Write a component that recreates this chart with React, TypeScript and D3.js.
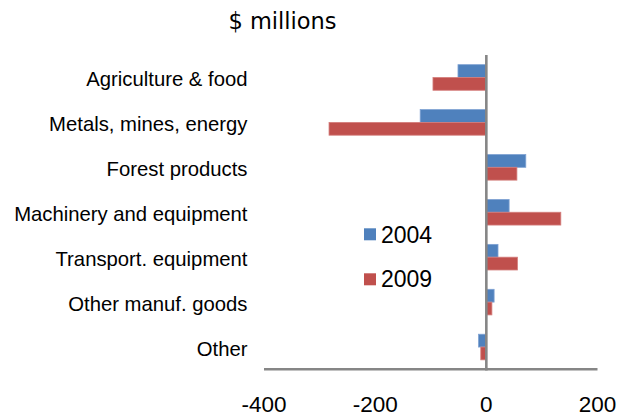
import React from "react";
import * as d3 from "d3";

const categories = [
  "Agriculture & food",
  "Metals, mines, energy",
  "Forest products",
  "Machinery and equipment",
  "Transport. equipment",
  "Other manuf. goods",
  "Other",
];
const values2004 = [-51, -119, 71, 41, 21, 14, -14];
const values2009 = [-96, -283, 55, 134, 56, 10, -10];
const seriesNames = ["2004", "2009"];
const seriesColors = ["#4F81BD", "#C0504D"];
const seriesStrokes = ["#7FA2D3", "#D47E7C"];
const xTicks = [-400, -200, 0, 200];

export default function App() {
  const W = 633;
  const H = 417;
  const x = d3.scaleLinear().domain([-400, 200]).range([264, 597.5]);
  const y = d3.scaleBand<string>().domain(categories).range([55, 369.5]).paddingInner(0.43).paddingOuter(0.215);
  const series = [values2004, values2009];
  const bw = y.bandwidth() / 2;

  return (
    <svg width={W} height={H} style={{ position: "absolute", left: 0, top: 0 }}>
      <rect width={W} height={H} fill="#fff" />
      <text x={282.5} y={29} fontFamily="DejaVu Sans" fontSize={22.5} textAnchor="middle" fill="#000">
        $ millions
      </text>
      {categories.map((c, i) => (
        <g key={c}>
          <text
            x={247.5}
            y={(y(c) as number) + y.bandwidth() / 2}
            dy="0.42em"
            textAnchor="end"
            fontFamily="Liberation Sans, Arial"
            fontSize={20.3}
            fill="#000"
          >
            {c}
          </text>
          {series.map((s, k) => {
            const v = s[i];
            const x0 = Math.min(x(0), x(v));
            const w = Math.abs(x(v) - x(0));
            return (
              <rect
                key={k}
                x={x0}
                y={(y(c) as number) + k * bw}
                width={w}
                height={bw}
                fill={seriesColors[k]}
                stroke={seriesStrokes[k]}
                strokeWidth={0.8}
              />
            );
          })}
        </g>
      ))}
      <line x1={x(-400)} x2={x(200)} y1={369.3} y2={369.3} stroke="#868686" strokeWidth={2.6} />
      <line x1={x(0)} x2={x(0)} y1={55} y2={370.5} stroke="#868686" strokeWidth={2.6} />
      {xTicks.map((t) => (
        <text
          key={t}
          x={x(t)}
          y={412}
          textAnchor="middle"
          fontFamily="Liberation Sans, Arial"
          fontSize={22.5}
          fill="#000"
        >
          {t}
        </text>
      ))}
      {seriesNames.map((n, k) => (
        <g key={n}>
          <rect x={364} y={228.3 + k * 45} width={12} height={12} fill={seriesColors[k]} />
          <text x={381} y={243.3 + k * 44} fontFamily="Liberation Sans, Arial" fontSize={23} fill="#000">
            {n}
          </text>
        </g>
      ))}
    </svg>
  );
}
